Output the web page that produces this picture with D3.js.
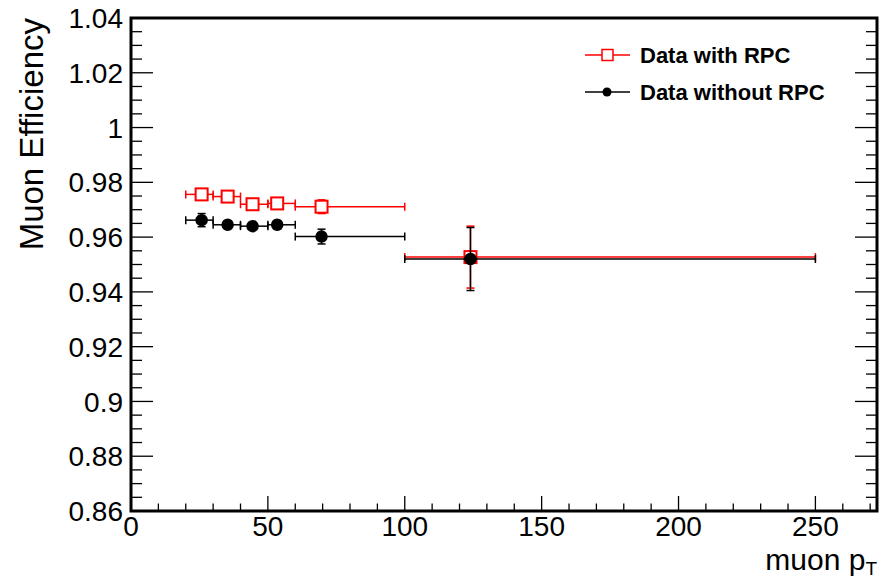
<!DOCTYPE html>
<html>
<head>
<meta charset="utf-8">
<script src="https://cdn.jsdelivr.net/npm/d3@7"></script>
<style>
  body { margin: 0; background: #fff; }
  svg { display: block; font-family: "Liberation Sans", Arial, sans-serif; }
</style>
</head>
<body>
<svg id="chart" width="883" height="580"></svg>
<script>
// bins in muon pT, point position = mean pT in the bin
var binLo = [20, 30, 40, 50, 60, 100];
var binHi = [30, 40, 50, 60, 100, 250];
var ptMean = [25.8, 35.3, 44.4, 53.4, 69.6, 124];

var effRPC = [0.9756, 0.9748, 0.9720, 0.9723, 0.9711, 0.9527];
var errRPC = [0.0012, 0.0010, 0.0010, 0.0010, 0.0025, 0.0113];
var effNoRPC = [0.9662, 0.9645, 0.9640, 0.9645, 0.9602, 0.9520];
var errNoRPC = [0.0024, 0.0010, 0.0010, 0.0015, 0.0027, 0.0115];

var xTicks = [0, 50, 100, 150, 200, 250];
var yTicks = [0.86, 0.88, 0.9, 0.92, 0.94, 0.96, 0.98, 1, 1.02, 1.04];

var svg = d3.select("#chart");
var frame = {left: 131, right: 877, top: 18, bottom: 511};

var x = d3.scaleLinear().domain([0, 272.5]).range([frame.left, frame.right]);
var y = d3.scaleLinear().domain([0.86, 1.04]).range([frame.bottom, frame.top]);

// minor ticks
var xMinor = d3.range(0, 272, 10);
var yMinor = d3.range(0, 37).map(function(i) { return 0.86 + i * 0.005; });

var ticks = svg.append("g").attr("stroke", "#000").attr("stroke-width", 1.3);
xMinor.forEach(function(v) {
  var major = v % 50 === 0;
  ticks.append("line")
    .attr("x1", x(v)).attr("x2", x(v))
    .attr("y1", frame.bottom).attr("y2", frame.bottom - (major ? 15 : 7.5));
});
yMinor.forEach(function(v, i) {
  var len = (i % 4 === 0) ? 22 : 11;
  ticks.append("line")
    .attr("x1", frame.left).attr("x2", frame.left + len)
    .attr("y1", y(v)).attr("y2", y(v));
  ticks.append("line")
    .attr("x1", frame.right).attr("x2", frame.right - len)
    .attr("y1", y(v)).attr("y2", y(v));
});

// frame
svg.append("rect")
  .attr("x", frame.left).attr("y", frame.top)
  .attr("width", frame.right - frame.left)
  .attr("height", frame.bottom - frame.top)
  .attr("fill", "none").attr("stroke", "#000").attr("stroke-width", 3);

// tick labels
svg.append("g").selectAll("text")
  .data(xTicks).enter().append("text")
    .attr("x", function(d) { return x(d); })
    .attr("y", 536)
    .attr("text-anchor", "middle")
    .attr("font-size", 28)
    .text(function(d) { return d; });

svg.append("g").selectAll("text")
  .data(yTicks).enter().append("text")
    .attr("x", 123)
    .attr("y", function(d) { return y(d); })
    .attr("dy", "0.36em")
    .attr("text-anchor", "end")
    .attr("font-size", 28)
    .text(function(d) { return d3.format("")(+d.toFixed(2)); });

// axis titles
svg.append("text")
  .attr("transform", "translate(43,18) rotate(-90)")
  .attr("text-anchor", "end")
  .attr("font-size", 33)
  .text("Muon Efficiency");

var xt = svg.append("text")
  .attr("x", 877).attr("y", 570)
  .attr("text-anchor", "end")
  .attr("font-size", 30);
xt.append("tspan").text("muon p");
xt.append("tspan").attr("font-size", 19).attr("dy", 5).text("T");

// error bars + markers
function drawSeries(eff, err, color, marker) {
  var g = svg.append("g").attr("stroke", color).attr("stroke-width", 1.5);
  eff.forEach(function(v, i) {
    var cx = x(ptMean[i]), cy = y(v);
    g.append("line").attr("x1", x(binLo[i])).attr("x2", x(binHi[i])).attr("y1", cy).attr("y2", cy);
    g.append("line").attr("x1", x(binLo[i])).attr("x2", x(binLo[i])).attr("y1", cy - 4).attr("y2", cy + 4);
    g.append("line").attr("x1", x(binHi[i])).attr("x2", x(binHi[i])).attr("y1", cy - 4).attr("y2", cy + 4);
    g.append("line").attr("x1", cx).attr("x2", cx).attr("y1", y(v - err[i])).attr("y2", y(v + err[i]));
    g.append("line").attr("x1", cx - 4).attr("x2", cx + 4).attr("y1", y(v - err[i])).attr("y2", y(v - err[i]));
    g.append("line").attr("x1", cx - 4).attr("x2", cx + 4).attr("y1", y(v + err[i])).attr("y2", y(v + err[i]));
    if (marker === "square") {
      g.append("rect").attr("x", cx - 6).attr("y", cy - 6).attr("width", 12).attr("height", 12)
        .attr("fill", "#fff").attr("stroke-width", 2);
    } else {
      g.append("circle").attr("cx", cx).attr("cy", cy).attr("r", 5.5).attr("fill", color);
    }
  });
}
drawSeries(effRPC, errRPC, "#ff0000", "square");
drawSeries(effNoRPC, errNoRPC, "#000", "circle");

// legend
var legend = [
  {label: "Data with RPC", color: "#ff0000", marker: "square", y: 55},
  {label: "Data without RPC", color: "#000", marker: "circle", y: 92}
];
var lg = svg.append("g");
legend.forEach(function(d) {
  lg.append("line").attr("x1", 585).attr("x2", 630).attr("y1", d.y).attr("y2", d.y)
    .attr("stroke", d.color).attr("stroke-width", 1.5);
  if (d.marker === "square") {
    lg.append("rect").attr("x", 602).attr("y", d.y - 5.5).attr("width", 11).attr("height", 11)
      .attr("fill", "#fff").attr("stroke", d.color).attr("stroke-width", 1.5);
  } else {
    lg.append("circle").attr("cx", 607).attr("cy", d.y).attr("r", 4.5).attr("fill", d.color);
  }
  lg.append("text").attr("x", 640).attr("y", d.y + 8)
    .attr("font-size", 22).attr("font-weight", "bold")
    .text(d.label);
});
</script>
</body>
</html>
